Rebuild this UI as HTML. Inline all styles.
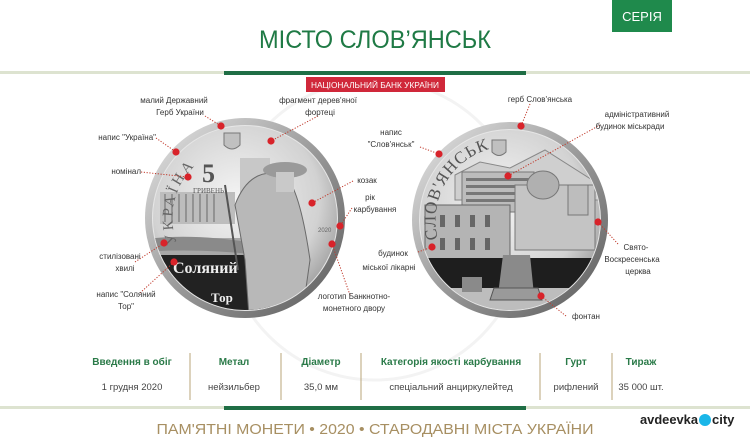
<!DOCTYPE html>
<html><head><meta charset="utf-8"><style>
html,body{margin:0;padding:0;background:#fff;}
svg{display:block;font-family:"Liberation Sans",sans-serif;}
.l{font-size:8px;fill:#333;}
.h{font-size:10px;font-weight:bold;fill:#2a7a48;}
.v{font-size:9.5px;fill:#444;}
.d{stroke:#c0392b;stroke-width:1;stroke-dasharray:1.2 1.6;fill:none;}
.dot{fill:#d8232a;}
</style></head><body>
<svg width="750" height="447" viewBox="0 0 750 447">
<defs>
<radialGradient id="cg" cx="45%" cy="40%" r="65%">
<stop offset="0" stop-color="#f4f4f4"/><stop offset="0.7" stop-color="#d2d2d2"/><stop offset="1" stop-color="#9a9a9a"/></radialGradient>
<linearGradient id="rim" x1="0" y1="0" x2="1" y2="1"><stop offset="0" stop-color="#e8e8e8"/><stop offset="0.5" stop-color="#9a9a9a"/><stop offset="1" stop-color="#5a5a5a"/></linearGradient>
<clipPath id="c1"><circle cx="245" cy="218" r="92"/></clipPath>
<clipPath id="c2"><circle cx="510" cy="220" r="90"/></clipPath>
<path id="a1" d="M177,243 A72,72 0 0 1 232,147"/>
<path id="a2" d="M438,239 A74,74 0 0 1 520,147"/>
</defs>
<circle cx="375" cy="230" r="150" fill="none" stroke="#f3f3f3" stroke-width="3"/>
<!-- header -->
<rect x="612" y="0" width="60" height="32" fill="#1f8a4c"/>
<text x="642" y="21" text-anchor="middle" font-size="13" fill="#fff">СЕРІЯ</text>
<text x="375" y="48" text-anchor="middle" font-size="25" fill="#1f7a45" textLength="232" lengthAdjust="spacingAndGlyphs">МІСТО СЛОВ’ЯНСЬК</text>
<rect x="0" y="71" width="750" height="3" fill="#dde3d0"/>
<rect x="224" y="71" width="302" height="4" fill="#1f6e45"/>
<rect x="306" y="77" width="139" height="15" fill="#d0283a"/>
<text x="375" y="88" text-anchor="middle" font-size="8" fill="#fff" textLength="128" lengthAdjust="spacingAndGlyphs">НАЦІОНАЛЬНИЙ БАНК УКРАЇНИ</text>

<!-- left coin -->
<circle cx="245" cy="218" r="100" fill="url(#rim)"/>
<circle cx="245" cy="218" r="93" fill="#e6e6e6"/>
<circle cx="245" cy="218" r="92" fill="url(#cg)"/>
<g clip-path="url(#c1)">
<rect x="140" y="238" width="120" height="90" fill="#a8a8a8"/>
<path d="M140,240 Q190,232 260,244 L260,255 Q200,248 140,252Z" fill="#8a8a8a"/>
<rect x="140" y="255" width="130" height="75" fill="#222"/>
<rect x="160" y="192" width="75" height="32" fill="#bdbdbd"/>
<g stroke="#777" stroke-width="1.2">
<line x1="165" y1="194" x2="165" y2="222"/><line x1="172" y1="194" x2="172" y2="222"/><line x1="179" y1="194" x2="179" y2="222"/><line x1="186" y1="194" x2="186" y2="222"/><line x1="193" y1="194" x2="193" y2="222"/><line x1="200" y1="194" x2="200" y2="222"/><line x1="207" y1="194" x2="207" y2="222"/><line x1="214" y1="194" x2="214" y2="222"/>
</g>
<rect x="240" y="158" width="30" height="80" fill="#c8c8c8"/>
<path d="M235,205 Q250,165 285,175 Q300,190 310,260 L300,330 L250,330 L245,260 Z" fill="#b8b8b8" stroke="#6a6a6a"/>
<ellipse cx="285" cy="170" rx="22" ry="8" fill="#9a9a9a"/>
<rect x="276" y="172" width="18" height="20" fill="#c9c9c9"/>
<line x1="225" y1="185" x2="238" y2="270" stroke="#555" stroke-width="2"/>
<text x="173" y="273" font-family="Liberation Serif,serif" font-weight="bold" font-size="16" fill="#eee">Соляний</text>
<text x="211" y="302" font-family="Liberation Serif,serif" font-weight="bold" font-size="13" fill="#eee">Тор</text>
</g>
<path d="M224,133 h16 v12 q-8,8 -16,0z" fill="#c0c0c0" stroke="#777"/>
<text x="202" y="182" font-family="Liberation Serif,serif" font-weight="bold" font-size="26" fill="#555">5</text>
<text x="193" y="193" font-family="Liberation Serif,serif" font-size="7" fill="#555">ГРИВЕНЬ</text>
<text font-family="Liberation Serif,serif" font-size="15" fill="#666" letter-spacing="3"><textPath href="#a1">УКРАЇНА</textPath></text>
<text x="318" y="232" font-size="6" fill="#666">2020</text>

<!-- right coin -->
<circle cx="510" cy="220" r="98" fill="url(#rim)"/>
<circle cx="510" cy="220" r="91" fill="#e6e6e6"/>
<circle cx="510" cy="220" r="90" fill="url(#cg)"/>
<g clip-path="url(#c2)">
<path d="M455,175 L480,162 L510,168 L545,150 L600,185 L600,200 L455,200Z" fill="#cfcfcf" stroke="#888"/>
<rect x="462" y="172" width="72" height="40" fill="#bcbcbc" stroke="#777"/>
<g fill="#777"><rect x="466" y="178" width="64" height="3"/><rect x="466" y="185" width="64" height="3"/><rect x="466" y="192" width="64" height="3"/><rect x="466" y="199" width="64" height="3"/></g>
<rect x="515" y="185" width="80" height="65" fill="#c4c4c4" stroke="#777"/>
<ellipse cx="543" cy="185" rx="16" ry="14" fill="#b0b0b0" stroke="#777"/>
<rect x="568" y="185" width="20" height="30" fill="#bdbdbd" stroke="#777"/>
<rect x="425" y="205" width="85" height="55" fill="#b4b4b4" stroke="#666"/>
<g fill="#666"><rect x="440" y="215" width="5" height="12"/><rect x="455" y="215" width="5" height="12"/><rect x="470" y="215" width="5" height="12"/><rect x="485" y="215" width="5" height="12"/><rect x="440" y="238" width="5" height="12"/><rect x="455" y="238" width="5" height="12"/><rect x="470" y="238" width="5" height="12"/><rect x="485" y="238" width="5" height="12"/></g>
<rect x="415" y="258" width="200" height="30" fill="#1e1e1e"/>
<rect x="415" y="288" width="200" height="30" fill="#bdbdbd"/>
<path d="M498,295 L503,255 L530,255 L534,295Z" fill="#8a8a8a"/>
<path d="M490,300 h52 l-4,-12 h-44z" fill="#9a9a9a" stroke="#555"/>
<path d="M462,292 h20 v-15 h-20z" fill="#8a8a8a"/>
</g>
<path d="M492,140 h14 v12 q-7,7 -14,0z" fill="#c0c0c0" stroke="#777"/>
<text font-family="Liberation Serif,serif" font-size="17" fill="#555" letter-spacing="1"><textPath href="#a2">СЛОВ'ЯНСЬК</textPath></text>

<!-- leaders -->
<g class="d">
<polyline points="205,116 221,126"/>
<polyline points="156,138 176,152"/>
<polyline points="141,172 188,177"/>
<polyline points="318,116 271,141"/>
<polyline points="353,181 312,203"/>
<polyline points="352,208 340,226"/>
<polyline points="350,295 332,244"/>
<polyline points="135,262 164,243"/>
<polyline points="140,293 174,262"/>
<polyline points="530,104 521,126"/>
<polyline points="600,125 508,176"/>
<polyline points="420,147 439,154"/>
<polyline points="618,244 598,222"/>
<polyline points="418,252 432,247"/>
<polyline points="566,316 541,296"/>
</g>
<g class="dot">
<circle cx="221" cy="126" r="3.6"/><circle cx="176" cy="152" r="3.6"/><circle cx="188" cy="177" r="3.6"/><circle cx="271" cy="141" r="3.6"/><circle cx="312" cy="203" r="3.6"/><circle cx="340" cy="226" r="3.6"/><circle cx="332" cy="244" r="3.6"/><circle cx="164" cy="243" r="3.6"/><circle cx="174" cy="262" r="3.6"/>
<circle cx="521" cy="126" r="3.6"/><circle cx="439" cy="154" r="3.6"/><circle cx="508" cy="176" r="3.6"/><circle cx="598" cy="222" r="3.6"/><circle cx="432" cy="247" r="3.6"/><circle cx="541" cy="296" r="3.6"/>
</g>
<g class="l">
<text x="174" y="103" text-anchor="middle">малий Державний</text>
<text x="180" y="115" text-anchor="middle">Герб України</text>
<text x="156" y="140" text-anchor="end">напис "Україна"</text>
<text x="141" y="174" text-anchor="end">номінал</text>
<text x="120" y="259" text-anchor="middle">стилізовані</text>
<text x="125" y="271" text-anchor="middle">хвилі</text>
<text x="126" y="297" text-anchor="middle">напис  "Соляний</text>
<text x="126" y="309" text-anchor="middle">Тор"</text>
<text x="318" y="103" text-anchor="middle">фрагмент дерев'яної</text>
<text x="320" y="115" text-anchor="middle">фортеці</text>
<text x="367" y="183" text-anchor="middle">козак</text>
<text x="370" y="200" text-anchor="middle">рік</text>
<text x="375" y="212" text-anchor="middle">карбування</text>
<text x="354" y="299" text-anchor="middle">логотип Банкнотно-</text>
<text x="354" y="311" text-anchor="middle">монетного двору</text>
<text x="391" y="135" text-anchor="middle">напис</text>
<text x="391" y="147" text-anchor="middle">"Слов'янськ"</text>
<text x="393" y="256" text-anchor="middle">будинок</text>
<text x="389" y="270" text-anchor="middle">міської лікарні</text>
<text x="540" y="102" text-anchor="middle">герб Слов'янська</text>
<text x="637" y="117" text-anchor="middle">адміністративний</text>
<text x="630" y="129" text-anchor="middle">будинок міськради</text>
<text x="636" y="250" text-anchor="middle">Свято-</text>
<text x="632" y="262" text-anchor="middle">Воскресенська</text>
<text x="638" y="274" text-anchor="middle">церква</text>
<text x="586" y="319" text-anchor="middle">фонтан</text>
</g>

<!-- table -->
<g stroke="#b9a57a" stroke-width="1">
<line x1="190" y1="353" x2="190" y2="400"/><line x1="281" y1="353" x2="281" y2="400"/><line x1="361" y1="353" x2="361" y2="400"/><line x1="540" y1="353" x2="540" y2="400"/><line x1="612" y1="353" x2="612" y2="400"/>
</g>
<text class="h" x="132" y="365" text-anchor="middle">Введення в обіг</text>
<text class="h" x="234" y="365" text-anchor="middle">Метал</text>
<text class="h" x="321" y="365" text-anchor="middle">Діаметр</text>
<text class="h" x="451" y="365" text-anchor="middle">Категорія якості карбування</text>
<text class="h" x="576" y="365" text-anchor="middle">Гурт</text>
<text class="h" x="641" y="365" text-anchor="middle">Тираж</text>
<text class="v" x="132" y="390" text-anchor="middle">1 грудня 2020</text>
<text class="v" x="234" y="390" text-anchor="middle">нейзильбер</text>
<text class="v" x="321" y="390" text-anchor="middle">35,0 мм</text>
<text class="v" x="451" y="390" text-anchor="middle">спеціальний анциркулейтед</text>
<text class="v" x="576" y="390" text-anchor="middle">рифлений</text>
<text class="v" x="641" y="390" text-anchor="middle">35 000 шт.</text>
<rect x="0" y="406" width="750" height="3" fill="#dde3d0"/>
<rect x="224" y="406" width="302" height="4" fill="#1f6e45"/>
<text x="375" y="434" text-anchor="middle" font-size="15" fill="#a78f62" textLength="437" lengthAdjust="spacingAndGlyphs">ПАМ'ЯТНІ МОНЕТИ • 2020 • СТАРОДАВНІ МІСТА УКРАЇНИ</text>
<text x="640" y="424" font-size="13" font-weight="bold" fill="#222" textLength="58" lengthAdjust="spacingAndGlyphs">avdeevka</text>
<circle cx="705" cy="420" r="6" fill="#1ab6e8"/>
<text x="712" y="424" font-size="13" font-weight="bold" fill="#222">city</text>
</svg>
</body></html>
